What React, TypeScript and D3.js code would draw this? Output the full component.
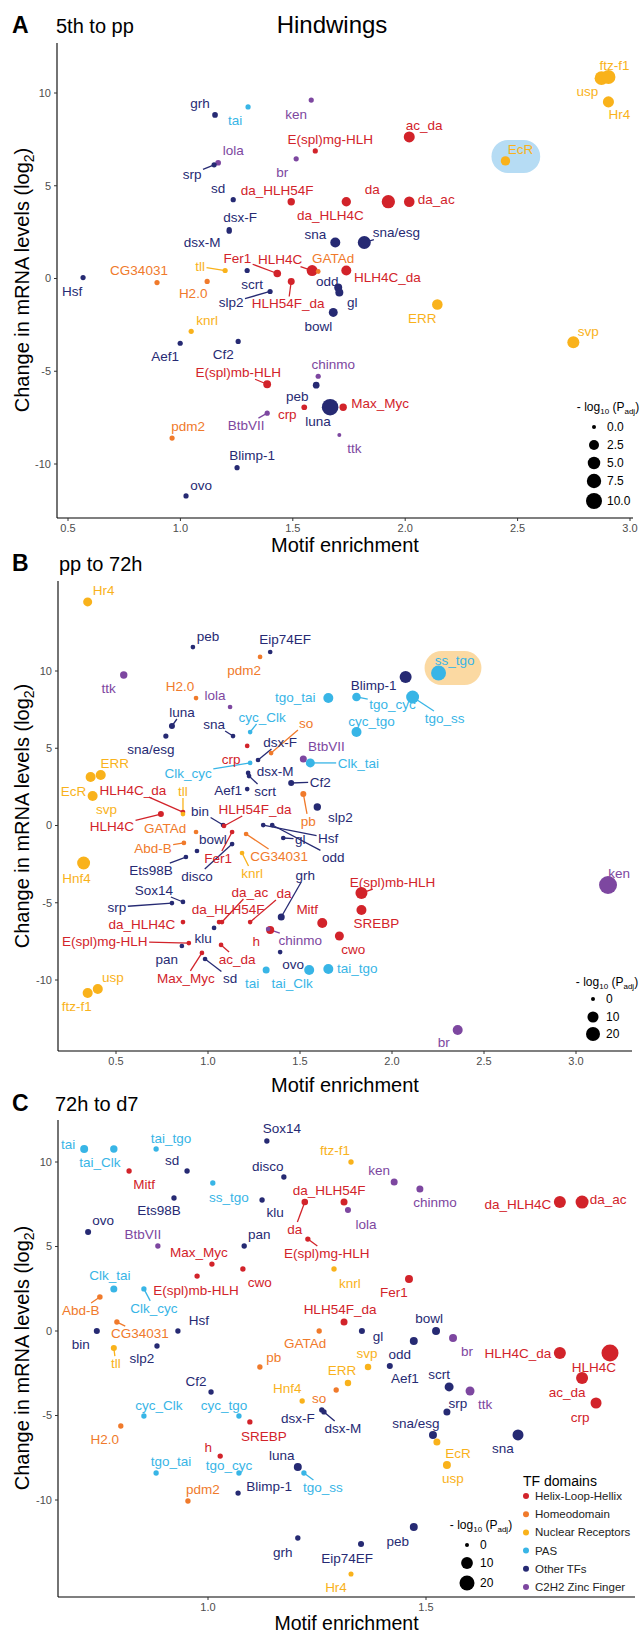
import React from 'react';
import * as d3 from 'd3';

// ---------- categories ----------
const domainKeys = ['H', 'D', 'N', 'P', 'O', 'Z'];
const domainNames = ['Helix-Loop-Hellix', 'Homeodomain', 'Nuclear Receptors', 'PAS', 'Other TFs', 'C2H2 Zinc Finger'];
const domainColors = ['#d2232a', '#f07a2b', '#f9b21b', '#38b5e6', '#262a73', '#7d47a0'];

// row: [TF, motif enrichment, log2 change, -log10 Padj, domain, label dx, label dy, leader line]
type Row = [string, number, number, number, string, number, number, number?];

// ---------- Panel A: 5th to pp ----------
const dataA: Row[] = [
  ['grh', 1.154, 8.82, 0.2, 'O', -15, -12],
  ['tai', 1.301, 9.25, 0.1, 'P', -13, 13],
  ['ken', 1.582, 9.62, 0.1, 'Z', -15, 14],
  ['E(spl)mg-HLH', 1.600, 6.88, 0.1, 'H', 15, -12],
  ['lola', 1.168, 6.24, 0.2, 'Z', 15, -12],
  ['srp', 1.150, 6.13, 0.1, 'O', -22, 9, 1],
  ['br', 1.515, 6.45, 0.1, 'Z', -14, 13],
  ['sd', 1.235, 4.25, 0.1, 'O', -15, -11],
  ['da_HLH54F', 1.493, 4.14, 0.8, 'H', -14, -11],
  ['dsx-F', 1.217, 2.63, 0.1, 'O', 11, -12],
  ['dsx-M', 1.217, 2.55, 0.1, 'O', -27, 11],
  ['scrt', 1.297, 0.43, 0.1, 'O', 5, 14],
  ['slp2', 1.399, -0.70, 0.1, 'O', -39, 11, 1],
  ['Hsf', 0.567, 0.05, 0.1, 'O', -11, 14],
  ['CG34031', 0.896, -0.22, 0.1, 'D', -18, -12],
  ['tll', 1.199, 0.43, 0.1, 'N', -25, -4, 1],
  ['H2.0', 1.119, -0.16, 0.1, 'D', -14, 12],
  ['Fer1', 1.431, 0.27, 0.9, 'H', -40, -15, 1],
  ['HLH4C', 1.586, 0.43, 3.4, 'H', -32, -11, 1],
  ['GATAd', 1.613, 0.38, 0.05, 'D', 15, -13],
  ['HLH54F_da', 1.493, -0.16, 0.6, 'H', -3, 22, 1],
  ['odd', 1.702, -0.48, 1.1, 'O', -11, -6],
  ['gl', 1.707, -0.75, 1.1, 'O', 13, 10],
  ['bowl', 1.680, -1.83, 1.7, 'O', -15, 14],
  ['knrl', 1.048, -2.85, 0.1, 'N', 16, -11],
  ['Aef1', 0.999, -3.49, 0.1, 'O', -15, 13],
  ['Cf2', 1.257, -3.39, 0.1, 'O', -15, 13],
  ['E(spl)mb-HLH', 1.386, -5.70, 1.0, 'H', -29, -12, 1],
  ['chinmo', 1.613, -5.27, 0.1, 'Z', 15, -12],
  ['peb', 1.604, -5.75, 0.5, 'O', -19, 11],
  ['luna', 1.666, -6.94, 11, 'O', -12, 14],
  ['Max_Myc', 1.724, -6.94, 0.8, 'H', 37, -4],
  ['crp', 1.551, -6.94, 0.2, 'H', -17, 7],
  ['BtbVII', 1.386, -7.26, 0.1, 'Z', -21, 12, 1],
  ['ttk', 1.707, -8.44, 0.0, 'Z', 15, 13],
  ['pdm2', 0.963, -8.60, 0.1, 'D', 16, -12],
  ['Blimp-1', 1.252, -10.2, 0.1, 'O', 15, -12],
  ['ovo', 1.025, -11.72, 0.1, 'O', 15, -11],
  ['ac_da', 2.018, 7.63, 3.4, 'H', 15, -12],
  ['da', 1.925, 4.14, 6.0, 'H', -16, -12],
  ['da_ac', 2.018, 4.14, 3.0, 'H', 27, -2],
  ['da_HLH4C', 1.738, 4.14, 2.0, 'H', -16, 14],
  ['sna', 1.689, 1.94, 2.5, 'O', -20, -8],
  ['sna/esg', 1.818, 1.94, 5.6, 'O', 32, -10, 1],
  ['HLH4C_da', 1.738, 0.43, 2.5, 'H', 41, 7],
  ['ERR', 2.143, -1.40, 3.0, 'N', -15, 14],
  ['svp', 2.748, -3.44, 4.5, 'N', 15, -11],
  ['EcR', 2.446, 6.34, 2.0, 'N', 15, -12],
  ['usp', 2.873, 10.80, 6.5, 'N', -14, 13],
  ['ftz-f1', 2.904, 10.86, 7.0, 'N', 6, -12],
  ['Hr4', 2.904, 9.52, 3.5, 'N', 11, 12],
];

// ---------- Panel B: pp to 72h ----------
const dataB: Row[] = [
  ['Hr4', 0.346, 14.47, 5, 'N', 16, -12],
  ['peb', 0.918, 11.55, 0.1, 'O', 15, -11],
  ['Eip74EF', 1.338, 11.23, 0.1, 'O', 15, -13],
  ['pdm2', 1.283, 10.91, 0.1, 'D', -16, 13],
  ['ttk', 0.542, 9.74, 2.3, 'Z', -15, 13],
  ['H2.0', 0.935, 8.25, 0.1, 'D', -16, -12],
  ['lola', 1.120, 7.67, 0.1, 'Z', -15, -12],
  ['tgo_tai', 1.654, 8.25, 7.2, 'P', -33, -1],
  ['luna', 0.804, 6.44, 0.8, 'O', 10, -14, 1],
  ['sna/esg', 0.771, 5.79, 0.3, 'O', -15, 13],
  ['sna', 1.136, 5.79, 0.1, 'O', -19, -12, 1],
  ['cyc_Clk', 1.229, 6.05, 0.1, 'P', 12, -15, 1],
  ['crp', 1.213, 5.15, 0.1, 'H', -16, 13],
  ['so', 1.343, 4.69, 0.1, 'D', 35, -30, 1],
  ['dsx-F', 1.272, 4.24, 0.1, 'O', 22, -18, 1],
  ['BtbVII', 1.518, 4.30, 1.8, 'Z', 23, -13],
  ['Clk_tai', 1.556, 4.05, 5, 'P', 48, 0, 1],
  ['Clk_cyc', 1.229, 4.05, 0.1, 'P', -62, 10, 1],
  ['dsx-M', 1.218, 3.40, 0.1, 'O', 27, -2],
  ['scrt', 1.223, 3.20, 0.1, 'O', 16, 15, 1],
  ['Aef1', 1.213, 2.36, 0.1, 'O', -19, 1],
  ['Cf2', 1.452, 2.75, 0.8, 'O', 29, -1, 1],
  ['ERR', 0.417, 3.27, 7.2, 'N', 14, -12],
  ['EcR', 0.362, 3.14, 7.2, 'N', -17, 14],
  ['svp', 0.373, 1.91, 7.2, 'N', 14, 13],
  ['HLH4C_da', 0.864, 0.87, 0.1, 'H', -50, -22, 1],
  ['tll', 0.864, 0.74, 0.1, 'N', 0, -23, 1],
  ['HLH4C', 0.744, 0.74, 0.8, 'H', -49, 12, 1],
  ['bin', 1.082, 0.03, 0.1, 'O', -23, -14, 1],
  ['HLH54F_da', 1.087, -0.03, 0.1, 'H', 31, -17, 1],
  ['pb', 1.518, 2.04, 0.8, 'D', 5, 27, 1],
  ['slp2', 1.594, 1.20, 2.3, 'O', 23, 10],
  ['GATAd', 0.935, -0.42, 0.1, 'D', -31, -4],
  ['Abd-B', 0.869, -1.13, 0.1, 'D', -31, 5, 1],
  ['bowl', 0.940, -1.65, 0.1, 'O', 16, -12],
  ['Fer1', 1.131, -0.42, 0.1, 'H', -14, 26, 1],
  ['disco', 1.131, -1.20, 0.1, 'O', -35, 32, 1],
  ['CG34031', 1.207, -0.55, 0.1, 'D', 33, 22, 1],
  ['knrl', 1.185, -1.78, 0.1, 'N', 10, 20, 1],
  ['Ets98B', 0.880, -2.04, 0.1, 'O', -35, 13, 1],
  ['Hnf4', 0.324, -2.43, 16, 'N', -7, 15],
  ['Hsf', 1.300, 0.03, 0.1, 'O', 65, 13, 1],
  ['odd', 1.349, 0.03, 0.1, 'O', 61, 32, 1],
  ['gl', 1.409, -0.81, 0.1, 'O', 17, 1, 1],
  ['grh', 1.398, -5.92, 1.8, 'O', 24, -42, 1],
  ['Sox14', 0.864, -4.95, 0.1, 'O', -29, -12, 1],
  ['srp', 0.804, -5.02, 0.1, 'O', -55, 4, 1],
  ['da_ac', 1.076, -6.25, 0.1, 'H', 28, -30, 1],
  ['da', 1.229, -6.25, 0.1, 'H', 34, -29, 1],
  ['da_HLH54F', 1.060, -6.25, 0.1, 'H', 9, -13],
  ['da_HLH4C', 0.864, -6.25, 0.1, 'H', -41, 2],
  ['Mitf', 1.621, -6.31, 7.2, 'H', -15, -14],
  ['klu', 1.033, -6.63, 0.1, 'O', -11, 10],
  ['h', 1.338, -6.76, 3.2, 'H', -14, 11],
  ['chinmo', 1.327, -6.70, 0.1, 'Z', 32, 11, 1],
  ['E(spl)mg-HLH', 0.896, -7.61, 0.1, 'H', -84, -2, 1],
  ['pan', 0.858, -7.80, 0.1, 'O', -15, 13],
  ['ac_da', 1.071, -7.73, 0.1, 'H', 16, 14, 1],
  ['Max_Myc', 0.967, -8.25, 0.1, 'H', -16, 25, 1],
  ['sd', 0.984, -8.64, 0.1, 'O', 25, 19, 1],
  ['ovo', 1.392, -8.19, 0.1, 'O', 13, 12],
  ['tai', 1.316, -9.35, 1.8, 'P', -14, 13],
  ['tai_Clk', 1.550, -9.35, 7.2, 'P', -17, 13],
  ['tai_tgo', 1.654, -9.29, 7.2, 'P', 29, -1],
  ['usp', 0.401, -10.58, 7.2, 'N', 15, -12],
  ['ftz-f1', 0.346, -10.84, 7.2, 'N', -11, 13],
  ['ss_tgo', 2.253, 9.87, 24, 'P', 16, -13],
  ['Blimp-1', 2.074, 9.61, 12.8, 'O', -32, 8],
  ['tgo_cyc', 1.807, 8.32, 4.2, 'P', 36, 7, 1],
  ['tgo_ss', 2.112, 8.32, 16, 'P', 32, 21, 1],
  ['cyc_tgo', 1.807, 6.05, 7.2, 'P', 15, -11],
  ['E(spl)mb-HLH', 1.834, -4.37, 12.8, 'H', 31, -11, 1],
  ['SREBP', 1.834, -5.47, 7.2, 'H', 15, 13],
  ['cwo', 1.714, -7.15, 5, 'H', 14, 13],
  ['ken', 3.174, -3.85, 39, 'Z', 11, -12],
  ['br', 2.357, -13.24, 7.2, 'Z', -14, 12],
];

// ---------- Panel C: 72h to d7 ----------
const dataC: Row[] = [
  ['tai', 0.716, 10.77, 2.6, 'P', -16, -5],
  ['tai_Clk', 0.784, 10.77, 1.9, 'P', -14, 13],
  ['tai_tgo', 0.881, 10.77, 0.3, 'P', 15, -11],
  ['sd', 0.952, 9.47, 0.3, 'O', -15, -11],
  ['Mitf', 0.819, 9.47, 0.3, 'H', 15, 13],
  ['Sox14', 1.135, 11.24, 0.3, 'O', 15, -13],
  ['disco', 1.174, 9.11, 0.3, 'O', -16, -11],
  ['ss_tgo', 1.011, 8.76, 0.3, 'P', 16, 14],
  ['Ets98B', 0.922, 7.87, 0.3, 'O', -15, 12],
  ['klu', 1.124, 7.75, 0.3, 'O', 13, 12],
  ['da', 1.222, 7.63, 1.1, 'H', -10, 27, 1],
  ['da_HLH54F', 1.312, 7.63, 1.5, 'H', -15, -12],
  ['lola', 1.321, 7.16, 0.7, 'Z', 18, 14],
  ['E(spl)mg-HLH', 1.229, 5.44, 0.3, 'H', 19, 14, 1],
  ['ovo', 0.725, 5.86, 0.7, 'O', 15, -12],
  ['BtbVII', 0.885, 5.03, 0.3, 'Z', -15, -12],
  ['pan', 1.083, 5.03, 0.3, 'O', 15, -12],
  ['Max_Myc', 1.009, 3.96, 0.3, 'H', -13, -12],
  ['cwo', 1.080, 3.67, 0.3, 'H', 17, 13],
  ['E(spl)mb-HLH', 0.975, 3.25, 0.3, 'H', -1, 14],
  ['Clk_tai', 0.784, 2.49, 1.5, 'P', -4, -14],
  ['Clk_cyc', 0.853, 2.49, 0.3, 'P', 10, 19, 1],
  ['Abd-B', 0.752, 2.01, 0.4, 'D', -19, 13, 1],
  ['CG34031', 0.791, 0.53, 0.3, 'D', 23, 11, 1],
  ['Hsf', 0.931, 0.0, 0.3, 'O', 21, -11],
  ['bin', 0.745, 0.0, 0.7, 'O', -16, 13],
  ['tll', 0.784, -1.01, 0.7, 'N', 2, 15, 1],
  ['slp2', 0.883, -0.89, 0.3, 'O', -15, 12],
  ['GATAd', 1.255, 0.0, 0.3, 'D', -14, 12],
  ['pb', 1.119, -2.13, 0.3, 'D', 14, -10],
  ['Cf2', 1.007, -3.61, 0.3, 'O', -15, -11],
  ['Hnf4', 1.216, -4.14, 0.3, 'N', -15, -13],
  ['so', 1.294, -3.49, 0.3, 'D', -17, 8],
  ['cyc_Clk', 0.853, -5.03, 0.3, 'P', 15, -11],
  ['cyc_tgo', 1.071, -5.03, 0.3, 'P', -15, -11],
  ['SREBP', 1.096, -5.38, 0.3, 'H', 14, 14],
  ['dsx-F', 1.261, -4.67, 0.3, 'O', -24, 8],
  ['dsx-M', 1.266, -4.79, 0.3, 'O', 19, 16, 1],
  ['H2.0', 0.800, -5.62, 0.3, 'D', -16, 13],
  ['h', 1.028, -7.40, 0.3, 'H', -12, -9],
  ['luna', 1.206, -8.05, 2.6, 'O', -16, -12],
  ['tgo_ss', 1.220, -8.40, 0.3, 'P', 19, 14, 1],
  ['tgo_tai', 0.881, -8.40, 0.3, 'P', 15, -12],
  ['tgo_cyc', 1.071, -8.40, 0.3, 'P', -10, -8],
  ['Blimp-1', 1.069, -9.59, 0.3, 'O', 31, -7],
  ['pdm2', 0.954, -10.06, 0.3, 'D', 15, -12],
  ['grh', 1.206, -12.25, 0.3, 'O', -15, 14],
  ['ftz-f1', 1.328, 10.0, 0.3, 'N', -16, -12],
  ['ken', 1.427, 8.82, 1.5, 'Z', -15, -12],
  ['chinmo', 1.486, 8.40, 1.5, 'Z', 15, 13],
  ['da_HLH4C', 1.807, 7.63, 10.6, 'H', -42, 2],
  ['da_ac', 1.858, 7.63, 13.4, 'H', 26, -3],
  ['knrl', 1.289, 3.67, 0.3, 'N', 16, 14],
  ['Fer1', 1.461, 3.08, 2.6, 'H', -15, 13],
  ['HLH54F_da', 1.312, 0.53, 1.5, 'H', -4, -13],
  ['gl', 1.353, 0.0, 0.7, 'O', 16, 5],
  ['bowl', 1.523, 0.0, 2.6, 'O', -7, -13],
  ['odd', 1.472, -0.59, 2.6, 'O', -14, 13],
  ['br', 1.562, -0.41, 2.6, 'Z', 14, 13],
  ['HLH4C_da', 1.807, -1.30, 10.6, 'H', -42, 0],
  ['HLH4C', 1.922, -1.30, 28, 'H', -16, 14],
  ['svp', 1.367, -2.13, 1.0, 'N', -1, -14],
  ['ERR', 1.321, -3.08, 1.0, 'N', -6, -13],
  ['Aef1', 1.417, -2.07, 0.7, 'O', 15, 12],
  ['scrt', 1.553, -3.31, 4.1, 'O', -10, -13],
  ['ttk', 1.601, -3.55, 4.1, 'Z', 15, 13],
  ['srp', 1.548, -4.79, 1.5, 'O', 11, -9],
  ['sna/esg', 1.516, -6.15, 2.6, 'O', -17, -12],
  ['EcR', 1.525, -6.57, 1.5, 'N', 21, 11],
  ['sna', 1.711, -6.15, 8.1, 'O', -15, 13],
  ['usp', 1.548, -7.93, 2.6, 'N', 6, 13],
  ['ac_da', 1.858, -2.78, 10.6, 'H', -15, 14],
  ['crp', 1.890, -4.26, 8.1, 'H', -16, 14],
  ['peb', 1.472, -11.6, 2.6, 'O', -16, 14],
  ['Eip74EF', 1.351, -12.6, 0.7, 'O', -14, 14],
  ['Hr4', 1.328, -14.38, 0.2, 'N', -15, 13],
];

// ---------- tick labels ----------
const xTicksA = [0.5, 1.0, 1.5, 2.0, 2.5, 3.0];
const xTicksB = [0.5, 1.0, 1.5, 2.0, 2.5, 3.0];
const xTicksC = [1.0, 1.5];
const yTicks = [-10, -5, 0, 5, 10];
const sizeBreaksA = [0, 2.5, 5, 7.5, 10];
const sizeBreaksBC = [0, 10, 20];

// ---------- layout ----------
const FONT = "'Liberation Sans', Arial, Helvetica, sans-serif";
const LABEL_SIZE = 13.5;

let ctx: CanvasRenderingContext2D | null = null;
function textW(s: string, size: number) {
  if (!ctx) ctx = document.createElement('canvas').getContext('2d');
  if (!ctx) return s.length * size * 0.55;
  ctx.font = `${size}px ${FONT}`;
  return ctx.measureText(s).width;
}

const colorOf = (k: string) => domainColors[domainKeys.indexOf(k)];

interface PanelCfg {
  data: Row[];
  letter: string; sub: string; letterY: number; subX: number;
  xDom: [number, number]; xRng: [number, number];
  yRng: [number, number];
  frame: { l: number; r: number; t: number; b: number };
  xTicks: number[]; xFmt: (v: number) => string;
  sizeMax: number; rRange: [number, number];
  sizeBreaks: number[]; sizeFmt: (v: number) => string;
  legX: number; legTitleY: number; legYs: number[];
  yTitleY: number; xTitleY: number; xTitleSize: number;
  highlight?: { name: string; fill: string };
}

const panels: PanelCfg[] = [
  {
    data: dataA, letter: 'A', sub: '5th to pp', letterY: 33, subX: 56,
    xDom: [0.5, 3.0], xRng: [68, 630], yRng: [93, 464],
    frame: { l: 57, r: 633, t: 43, b: 518 },
    xTicks: xTicksA, xFmt: d3.format('.1f'),
    sizeMax: 10, rRange: [2, 8], sizeBreaks: sizeBreaksA, sizeFmt: d3.format('.1f'),
    legX: 594, legTitleY: 407, legYs: [427, 445, 463, 481, 501],
    yTitleY: 280, xTitleY: 552, xTitleSize: 20,
    highlight: { name: 'EcR', fill: '#b6dcf4' },
  },
  {
    data: dataB, letter: 'B', sub: 'pp to 72h', letterY: 571, subX: 59,
    xDom: [1.0, 3.0], xRng: [208, 576], yRng: [671, 980],
    frame: { l: 58, r: 632, t: 581, b: 1051 },
    xTicks: xTicksB, xFmt: d3.format('.1f'),
    sizeMax: 20, rRange: [2, 7], sizeBreaks: sizeBreaksBC, sizeFmt: d3.format('d'),
    legX: 593, legTitleY: 982, legYs: [999, 1017, 1034],
    yTitleY: 816, xTitleY: 1092, xTitleSize: 20,
    highlight: { name: 'ss_tgo', fill: '#fbd9a2' },
  },
  {
    data: dataC, letter: 'C', sub: '72h to d7', letterY: 1111, subX: 55,
    xDom: [1.0, 1.5], xRng: [208, 426], yRng: [1162, 1500],
    frame: { l: 58, r: 635, t: 1120, b: 1597 },
    xTicks: xTicksC, xFmt: d3.format('.1f'),
    sizeMax: 20, rRange: [2, 7.5], sizeBreaks: sizeBreaksBC, sizeFmt: d3.format('d'),
    legX: 467, legTitleY: 1525, legYs: [1545, 1563, 1583],
    yTitleY: 1358, xTitleY: 1630, xTitleSize: 19.5,
  },
];

function Panel({ cfg }: { cfg: PanelCfg }) {
  const x = d3.scaleLinear().domain(cfg.xDom).range(cfg.xRng);
  const y = d3.scaleLinear().domain([10, -10]).range(cfg.yRng);
  const r = d3.scaleSqrt().domain([0, cfg.sizeMax]).range(cfg.rRange);
  const f = cfg.frame;

  const pts = cfg.data.map((d) => {
    const px = x(d[1]);
    const py = y(d[2]);
    const lx = px + d[5];
    const ly = py + d[6];
    const w = textW(d[0], LABEL_SIZE);
    return { name: d[0], px, py, rad: r(d[3]), col: colorOf(d[4]), lx, ly, w, seg: !!d[7] };
  });

  const segs = pts.filter((p) => p.seg).map((p) => {
    const vx = p.px - p.lx;
    const vy = p.py - p.ly;
    const hw = p.w / 2 + 1.5;
    const hh = 7;
    const s = Math.min(vx === 0 ? Infinity : hw / Math.abs(vx), vy === 0 ? Infinity : hh / Math.abs(vy));
    if (s >= 1) return null;
    return { x1: p.px, y1: p.py, x2: p.lx + vx * s, y2: p.ly + vy * s, col: p.col, key: p.name };
  }).filter(Boolean) as any[];

  let hl: any = null;
  if (cfg.highlight) {
    const p = pts.find((q) => q.name === cfg.highlight!.name);
    if (p) {
      const x0 = p.px - 14;
      const x1 = p.lx + p.w / 2 + 7;
      const y0 = p.ly - 9;
      const y1 = p.py + 12;
      hl = { x: x0, y: y0, w: x1 - x0, h: y1 - y0 };
    }
  }

  const tickCol = '#4d4d4d';
  return (
    <g>
      {/* headings */}
      <text x={12} y={cfg.letterY} fontSize={23} fontWeight="bold" fill="#000">{cfg.letter}</text>
      <text x={cfg.subX} y={cfg.letterY} fontSize={20} fill="#000">{cfg.sub}</text>

      {hl && <rect x={hl.x} y={hl.y} width={hl.w} height={hl.h} rx={hl.h / 2} fill={cfg.highlight!.fill} />}

      {/* axes */}
      <line x1={f.l} x2={f.l} y1={f.t} y2={f.b} stroke="#000" strokeWidth={1.1} />
      <line x1={f.l} x2={f.r} y1={f.b} y2={f.b} stroke="#000" strokeWidth={1.1} />
      {yTicks.map((t) => (
        <g key={'y' + t}>
          <line x1={f.l - 3} x2={f.l} y1={y(t)} y2={y(t)} stroke="#333" strokeWidth={1} />
          <text x={f.l - 6} y={y(t)} dy="0.35em" textAnchor="end" fontSize={11} fill={tickCol}>{t}</text>
        </g>
      ))}
      {cfg.xTicks.map((t) => (
        <g key={'x' + t}>
          <line x1={x(t)} x2={x(t)} y1={f.b} y2={f.b + 3} stroke="#333" strokeWidth={1} />
          <text x={x(t)} y={f.b + 14} textAnchor="middle" fontSize={11} fill={tickCol}>{cfg.xFmt(t)}</text>
        </g>
      ))}
      <text x={(f.l + f.r) / 2} y={cfg.xTitleY} textAnchor="middle" fontSize={cfg.xTitleSize} fill="#000">Motif enrichment</text>
      <text transform={`translate(29,${cfg.yTitleY}) rotate(-90)`} textAnchor="middle" fontSize={20} fill="#000">
        Change in mRNA levels (log<tspan fontSize={14} dy={5}>2</tspan><tspan dy={-5}>)</tspan>
      </text>

      {/* leader lines */}
      {segs.map((s) => (
        <line key={'s' + s.key} x1={s.x1} y1={s.y1} x2={s.x2} y2={s.y2} stroke={s.col} strokeWidth={1.3} />
      ))}
      {/* points */}
      {pts.map((p) => (
        <circle key={'c' + p.name} cx={p.px} cy={p.py} r={p.rad} fill={p.col} />
      ))}
      {/* labels */}
      {pts.map((p) => (
        <text key={'t' + p.name} x={p.lx} y={p.ly} dy="0.35em" textAnchor="middle" fontSize={LABEL_SIZE} fill={p.col}>{p.name}</text>
      ))}

      {/* size legend */}
      <text x={cfg.legX + 14} y={cfg.legTitleY} dy="0.35em" textAnchor="middle" fontSize={12} fill="#000">
        - log<tspan fontSize={8} dy={3}>10</tspan><tspan dy={-3}> (P</tspan><tspan fontSize={8} dy={3}>adj</tspan><tspan dy={-3}>)</tspan>
      </text>
      {cfg.sizeBreaks.map((b, i) => (
        <g key={'lg' + b}>
          <circle cx={cfg.legX} cy={cfg.legYs[i]} r={r(b)} fill="#000" />
          <text x={cfg.legX + 13} y={cfg.legYs[i]} dy="0.35em" fontSize={12} fill="#000">{cfg.sizeFmt(b)}</text>
        </g>
      ))}
    </g>
  );
}

function DomainLegend() {
  const x0 = 523;
  const y0 = 1481;
  return (
    <g>
      <text x={x0} y={y0} dy="0.35em" fontSize={14} fill="#000">TF domains</text>
      {domainNames.map((n, i) => (
        <g key={n}>
          <circle cx={x0 + 3} cy={y0 + 15 + i * 18.2} r={3} fill={domainColors[i]} />
          <text x={x0 + 12} y={y0 + 15 + i * 18.2} dy="0.35em" fontSize={11.5} fill="#222">{n}</text>
        </g>
      ))}
    </g>
  );
}

export default function App() {
  return (
    <svg width={640} height={1636} style={{ position: 'absolute', left: 0, top: 0, background: '#fff' }}
      fontFamily={FONT}>
      <rect width={640} height={1636} fill="#fff" />
      <text x={332} y={33} textAnchor="middle" fontSize={24} fill="#000">Hindwings</text>
      {panels.map((p) => <Panel key={p.letter} cfg={p} />)}
      <DomainLegend />
    </svg>
  );
}
